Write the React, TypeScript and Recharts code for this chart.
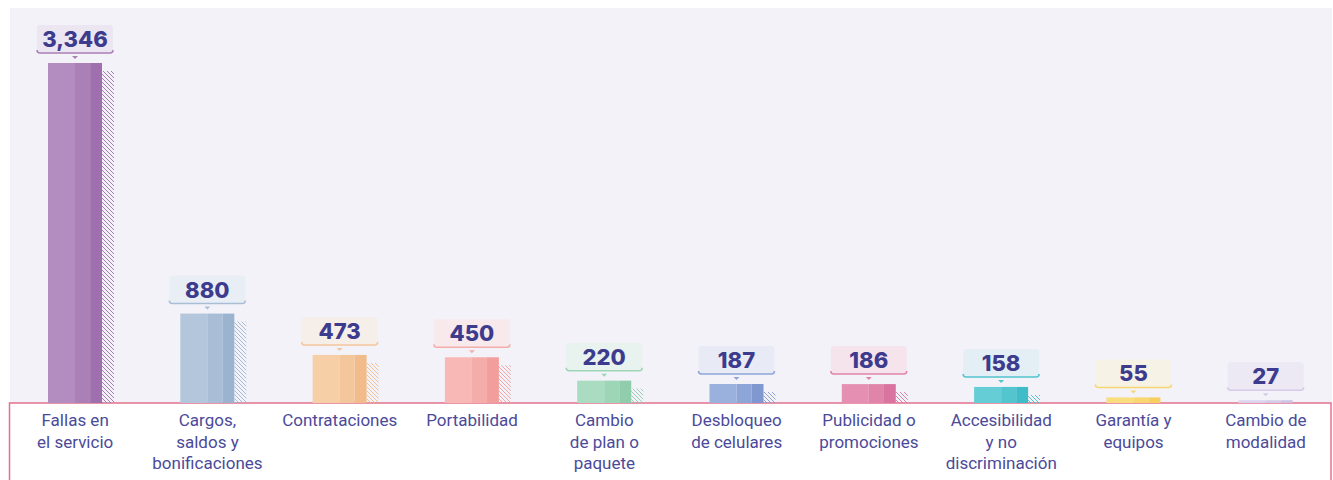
import React from "react";
import { BarChart, Bar, XAxis, YAxis, LabelList } from "recharts";

const categories = [
  "Fallas en\nel servicio",
  "Cargos,\nsaldos y\nbonificaciones",
  "Contrataciones",
  "Portabilidad",
  "Cambio\nde plan o\npaquete",
  "Desbloqueo\nde celulares",
  "Publicidad o\npromociones",
  "Accesibilidad\ny no\ndiscriminación",
  "Garantía y\nequipos",
  "Cambio de\nmodalidad",
];

const quejas = [3346, 880, 473, 450, 220, 187, 186, 158, 55, 27];

// light / mid / dark stripes, label tint
const palette = [
  ["#b48dc0", "#ab80b7", "#9f6fae", "#ebe6f1"],
  ["#b3c6db", "#a9bed6", "#9cb3cf", "#e9eef5"],
  ["#f6cfa6", "#f4c69b", "#f1bb8c", "#f6efe9"],
  ["#f7b8b6", "#f5ada9", "#f29e9c", "#f7e9ec"],
  ["#a9dcc1", "#9dd5b7", "#8fcdac", "#e8f2ee"],
  ["#9ab1dd", "#8ea6d7", "#7f99d0", "#e8ebf5"],
  ["#e58fb3", "#e084aa", "#d9739f", "#f5e4ec"],
  ["#65cdd5", "#52c5ce", "#3fbcc7", "#e3eff4"],
  ["#f9dd7e", "#f8d670", "#f6cf60", "#f6f2e6"],
  ["#dcd3ec", "#d5cbe8", "#cec2e3", "#ece8f4"],
];

const data = categories.map((c, i) => ({ name: c, value: quejas[i] }));

const BASE = 403;

const StripedBar = (props: any) => {
  const { x, y, width, height, index } = props;
  const [c1, c2, c3] = palette[index];
  const w1 = width * 0.5;
  const w2 = width * 0.28;
  const w3 = width - w1 - w2;
  const hatchTop = y + 8;
  const id = `hatch-${index}`;
  return (
    <g>
      <defs>
        <pattern id={id} patternUnits="userSpaceOnUse" width={4} height={4}>
          <path d="M0,0 L4,4 M-1,3 L1,5 M3,-1 L5,1" stroke={c3} strokeWidth={0.9} />
        </pattern>
      </defs>
      {hatchTop < y + height && (
        <rect x={x + width} y={hatchTop} width={12} height={y + height - hatchTop} fill={`url(#${id})`} />
      )}
      <rect x={x} y={y} width={w1} height={height} fill={c1} />
      <rect x={x + w1} y={y} width={w2} height={height} fill={c2} />
      <rect x={x + w1 + w2} y={y} width={w3} height={height} fill={c3} />
    </g>
  );
};

const ValueLabel = (props: any) => {
  const { x, y, width, value, index } = props;
  const cx = x + width / 2;
  const bw = 76;
  const bh = 28;
  const bx = cx - bw / 2;
  const by = y - 10 - bh;
  const [, c2, , tint] = palette[index];
  return (
    <g>
      <rect x={bx} y={by} width={bw} height={bh} rx={3} fill={tint} />
      <path
        d={`M${bx},${by + bh - 3} Q${bx},${by + bh} ${bx + 3},${by + bh} L${bx + bw - 3},${by + bh} Q${bx + bw},${by + bh} ${bx + bw},${by + bh - 3}`}
        stroke={c2}
        strokeWidth={1.5}
        fill="none"
      />
      <path d={`M${cx - 3},${by + bh + 3} L${cx + 3},${by + bh + 3} L${cx},${by + bh + 6} Z`} fill={c2} />
      <text
        x={cx}
        y={by + bh / 2 + 8}
        textAnchor="middle"
        fontFamily="Inter, Roboto, sans-serif"
        fontWeight={800}
        fontSize={22}
        fill="#3d3b8e"
      >
        {Number(value).toLocaleString("en-US")}
      </text>
    </g>
  );
};

const CategoryTick = (props: any) => {
  const { x, y, payload } = props;
  const lines = String(payload.value).split("\n");
  return (
    <text textAnchor="middle" fontFamily="Roboto, sans-serif" fontSize={17} fill="#4b4a9a">
      {lines.map((l, i) => (
        <tspan key={i} x={x} y={y + 23 + i * 21.5}>
          {l}
        </tspan>
      ))}
    </text>
  );
};

export default function App() {
  return (
    <div style={{ position: "absolute", left: 0, top: 0, width: 1333, height: 480, background: "#fff", overflow: "hidden" }}>
      <svg width={1333} height={480} style={{ position: "absolute", left: 0, top: 0 }}>
        <rect x={10} y={8} width={1322} height={BASE - 8} fill="#f3f2f8" />
        <rect x={9.5} y={BASE} width={1321.5} height={90} fill="#fff" stroke="#e4728f" strokeWidth={1.5} />
      </svg>
      <div style={{ position: "absolute", left: 0, top: 0 }}>
        <BarChart width={1333} height={480} data={data} margin={{ top: 63, right: 1, left: 9, bottom: 0 }}>
          <XAxis
            dataKey="name"
            axisLine={false}
            tickLine={false}
            tickSize={0}
            tickMargin={0}
            height={77}
            interval={0}
            tick={<CategoryTick />}
          />
          <YAxis hide domain={[0, 3346]} />
          <Bar dataKey="value" barSize={54} shape={<StripedBar />} isAnimationActive={false}>
            <LabelList dataKey="value" content={<ValueLabel />} />
          </Bar>
        </BarChart>
      </div>
    </div>
  );
}
